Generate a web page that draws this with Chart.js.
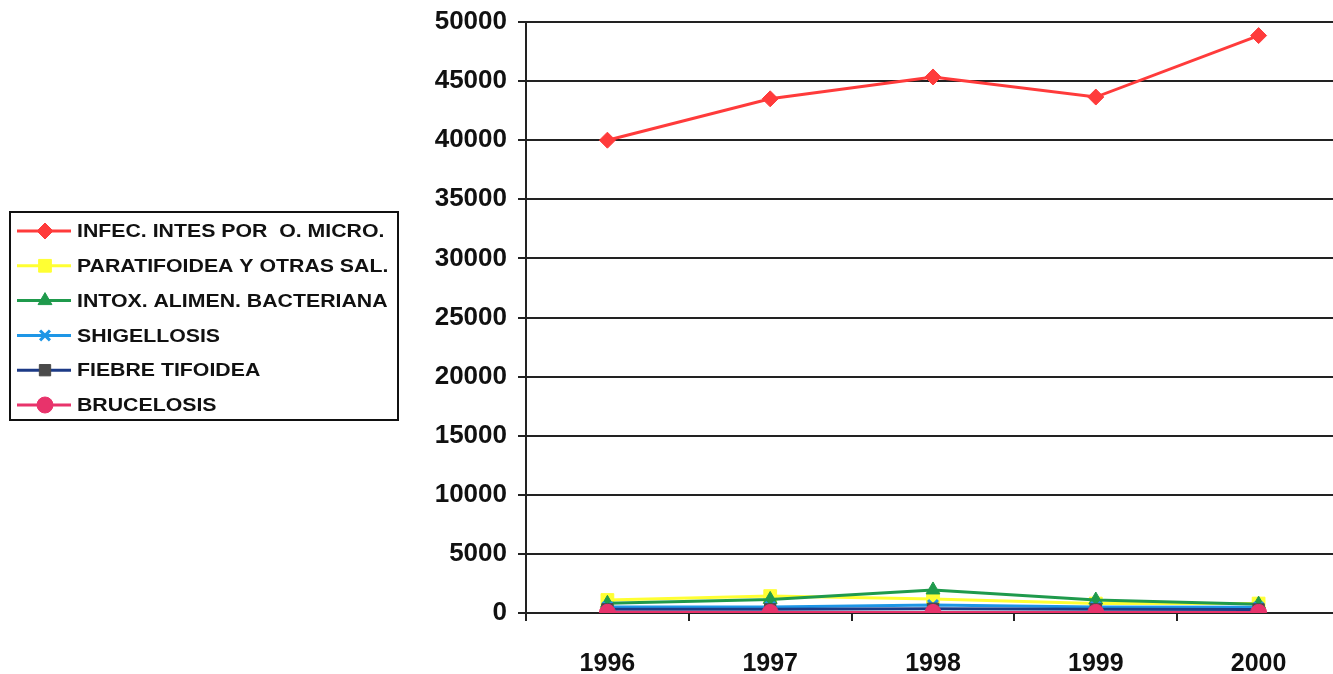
<!DOCTYPE html>
<html>
<head>
<meta charset="utf-8">
<script src="https://cdn.jsdelivr.net/npm/chart.js@4/dist/chart.umd.min.js"></script>
<style>
    html, body { margin: 0; padding: 0; background: #fff; overflow: hidden; }
    #grafico { display: block; }
</style>
</head>
<body>
<canvas id="grafico" width="1350" height="674"></canvas>
<script>
// Datos
const anios = ['1996', '1997', '1998', '1999', '2000'];
const infecIntes = [40000, 43500, 45350, 43650, 48850];
const paratifoidea = [1100, 1430, 1180, 800, 800];
const intoxAlimen = [820, 1150, 1950, 1100, 750];
const shigellosis = [510, 510, 680, 510, 480];
const fiebreTifoidea = [310, 310, 360, 310, 300];
const brucelosis = [60, 50, 50, 50, 50];
const yTicks = [0, 5000, 10000, 15000, 20000, 25000, 30000, 35000, 40000, 45000, 50000];

const series = [
    { label: 'INFEC. INTES POR  O. MICRO.', data: infecIntes, color: '#ff3b3b', fill: '#ff3b3b', style: 'rectRot', r: 8 },
    { label: 'PARATIFOIDEA Y OTRAS SAL.', data: paratifoidea, color: '#ffff33', fill: '#ffff33', style: 'rect', r: 9 },
    { label: 'INTOX. ALIMEN. BACTERIANA', data: intoxAlimen, color: '#1f9a4c', fill: '#1f9a4c', style: 'triangle', r: 8 },
    { label: 'SHIGELLOSIS', data: shigellosis, color: '#1e96e6', fill: '#1e96e6', style: 'crossRot', r: 7 },
    { label: 'FIEBRE TIFOIDEA', data: fiebreTifoidea, color: '#1c3a86', fill: '#4a4a4a', style: 'rect', r: 8 },
    { label: 'BRUCELOSIS', data: brucelosis, color: '#e8336b', fill: '#e8336b', style: 'circle', r: 8 }
];

// Leyenda dibujada a mano (línea + marcador en el medio)
const leyendaCaja = {
    id: 'leyendaCaja',
    afterDraw(chart) {
        const ctx = chart.ctx;
        ctx.save();
        ctx.strokeStyle = '#111';
        ctx.lineWidth = 2;
        ctx.strokeRect(10, 212, 388, 208);
        const y0 = 231, paso = 34.8;
        series.forEach((s, i) => {
            const y = y0 + i * paso;
            ctx.strokeStyle = s.color;
            ctx.lineWidth = 3;
            ctx.beginPath();
            ctx.moveTo(17, y);
            ctx.lineTo(71, y);
            ctx.stroke();
            ctx.fillStyle = s.fill;
            ctx.strokeStyle = s.style === 'crossRot' ? s.color : s.fill;
            ctx.lineWidth = s.style === 'crossRot' ? 3 : 1;
            Chart.helpers.drawPoint(ctx, { pointStyle: s.style, radius: s.r, rotation: 0, borderWidth: ctx.lineWidth }, 45, y);
            // texto algo ensanchado, como en la imagen original
            ctx.save();
            ctx.translate(77, y + 1);
            ctx.scale(1.12, 1);
            ctx.fillStyle = '#111';
            ctx.font = 'bold 19px "Liberation Sans", Arial, sans-serif';
            ctx.textBaseline = 'middle';
            ctx.textAlign = 'left';
            ctx.fillText(s.label, 0, 0);
            ctx.restore();
        });
        ctx.restore();
    }
};

const ctx = document.getElementById('grafico').getContext('2d');
new Chart(ctx, {
    type: 'line',
    data: {
        labels: anios,
        datasets: series.map((s, i) => ({
            label: s.label,
            data: s.data,
            borderColor: s.color,
            backgroundColor: s.fill,
            pointBackgroundColor: s.fill,
            pointBorderColor: s.style === 'crossRot' ? s.color : s.fill,
            pointBorderWidth: s.style === 'crossRot' ? 3 : 1,
            pointStyle: s.style,
            pointRadius: s.r,
            borderWidth: 3,
            tension: 0,
            fill: false,
            order: 6 - i
        }))
    },
    options: {
        responsive: false,
        animation: false,
        layout: { padding: { top: 22, right: 0, left: 0, bottom: 0 } },
        plugins: {
            legend: { display: false },
            tooltip: { enabled: false }
        },
        scales: {
            x: {
                offset: true,
                afterFit(scale) { scale.height = 61; scale.paddingLeft = 0; scale.paddingRight = 0; },
                grid: { offset: true, drawOnChartArea: false, drawTicks: true, tickLength: 8, color: '#222', lineWidth: 2 },
                border: { color: '#222', width: 2 },
                ticks: {
                    color: '#111',
                    padding: 28,
                    font: { family: '"Liberation Sans", Arial, sans-serif', size: 25, weight: 'bold' }
                }
            },
            y: {
                min: 0,
                max: 50000,
                afterFit(scale) { scale.width = 526; scale.paddingTop = 0; scale.paddingBottom = 0; },
                afterBuildTicks(scale) { scale.ticks = yTicks.map(v => ({ value: v })); },
                grid: { color: '#222', lineWidth: 2, drawTicks: true, tickLength: 8 },
                border: { color: '#222', width: 2 },
                ticks: {
                    color: '#111',
                    padding: 11,
                    font: { family: '"Liberation Sans", Arial, sans-serif', size: 26, weight: 'bold' },
                    callback: v => String(v)
                }
            }
        }
    },
    plugins: [leyendaCaja]
});
</script>
</body>
</html>
